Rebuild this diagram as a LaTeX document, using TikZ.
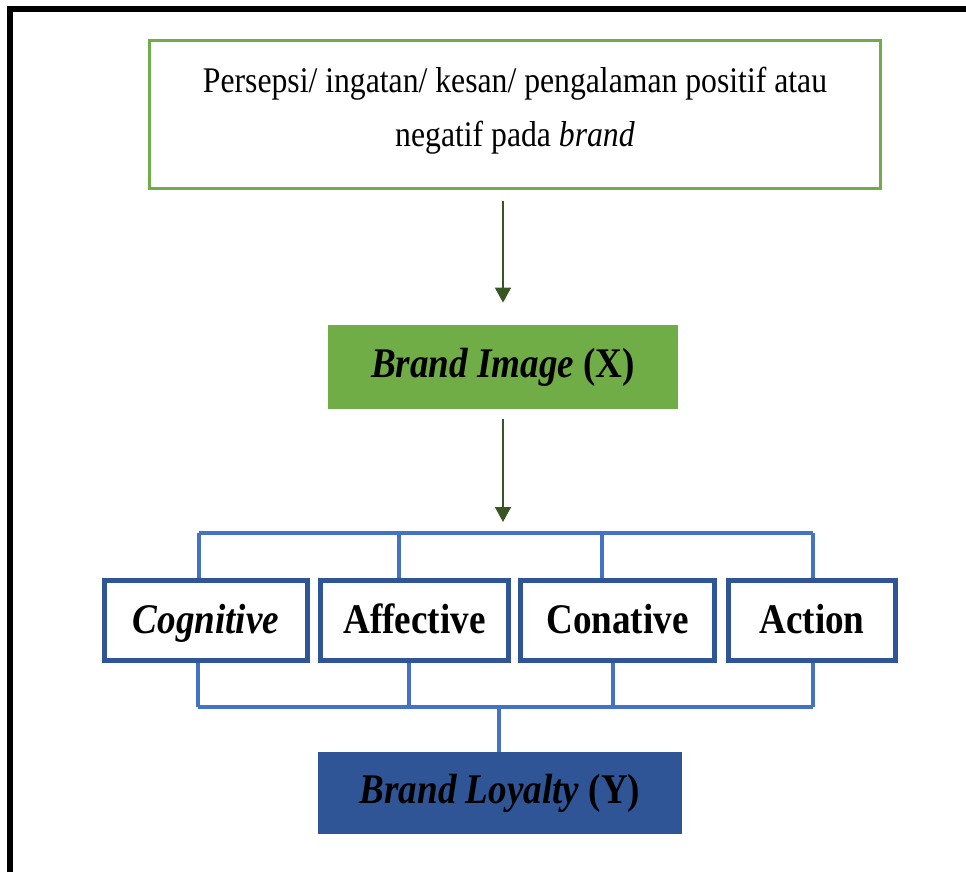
\documentclass[tikz,border=0pt]{standalone}
\usepackage{fontspec}
\setmainfont{Liberation Serif}[FakeStretch=0.88]
\usepackage{tikz}
\usetikzlibrary{arrows.meta}
\definecolor{boxgreen}{HTML}{70AD47}
\definecolor{arrowgreen}{HTML}{375623}
\definecolor{linkblue}{HTML}{4472C4}
\definecolor{boxblue}{HTML}{2F5597}

\begin{document}
\begin{tikzpicture}[x=0.2mm, y=-0.2mm,
        source/.style={draw=boxgreen, line width=1.7pt, minimum width=146.2mm, minimum height=29.6mm, align=center, text depth=9pt, font=\fontsize{20.5}{31}\selectfont},
        varbox/.style={inner sep=0pt, font=\fontsize{24}{28}\selectfont\bfseries},
        dimbox/.style={draw=boxblue, line width=2.85pt, minimum height=16mm, inner sep=0pt, text height=17pt, text depth=2pt, font=\fontsize{24}{28}\selectfont\bfseries},
        link/.style={draw=linkblue, line width=1.8pt},
        flow/.style={draw=arrowgreen, line width=1.2pt, -{Triangle[width=9pt,length=8.5pt]}}]
        \useasboundingbox (0,0) rectangle (966,872);
        % frame
        \draw [black, line width=3.4pt] (10,872) -- (10,9) -- (966,9);
        \node[source] (percept) at (515,114.5) {Persepsi/ ingatan/ kesan/ pengalaman positif atau\\negatif pada \textit{brand}};
        \node[varbox, fill=boxgreen, minimum width=70mm, minimum height=16.8mm] (image) at (503,367) {\textit{Brand Image} (X)};
        \node[dimbox, minimum width=40.6mm] (cognitive) at (206,620.5) {\textit{Cognitive}};
        \node[dimbox, minimum width=37.6mm] (affective) at (414.5,620.5) {Affective};
        \node[dimbox, minimum width=38.8mm] (conative) at (617.5,620.5) {Conative};
        \node[dimbox, minimum width=33.4mm] (action) at (812,620.5) {Action};
        \node[varbox, fill=boxblue, minimum width=72.8mm, minimum height=16.4mm] (loyalty) at (500,793) {\textit{Brand Loyalty} (Y)};
        % bus lines
        \coordinate (t1) at (199,533);
        \coordinate (t2) at (399,533);
        \coordinate (t3) at (602,533);
        \coordinate (t4) at (813,533);
        \coordinate (b1) at (198,707);
        \coordinate (b2) at (409,707);
        \coordinate (b3) at (613,707);
        \coordinate (b4) at (813,707);
        \coordinate (bm) at (499,707);
        \draw [flow, shorten <=2.3mm, shorten >=4.4mm] (percept.south -| image.north) -- (image.north);
        \draw [flow, shorten <=2mm, shorten >=2.2mm] (image.south) -- (image.south |- t1);
        \draw [link] (t1) -- (t4);
        \draw [link] (t1) -- (t1 |- cognitive.north);
        \draw [link] (t2) -- (t2 |- affective.north);
        \draw [link] (t3) -- (t3 |- conative.north);
        \draw [link] (t4) -- (t4 |- action.north);
        \draw [link] (b1) -- (b4);
        \draw [link] (cognitive.south -| b1) -- (b1);
        \draw [link] (affective.south -| b2) -- (b2);
        \draw [link] (conative.south -| b3) -- (b3);
        \draw [link] (action.south -| b4) -- (b4);
        \draw [link] (bm) -- (bm |- loyalty.north);
    \end{tikzpicture}
\end{document}
